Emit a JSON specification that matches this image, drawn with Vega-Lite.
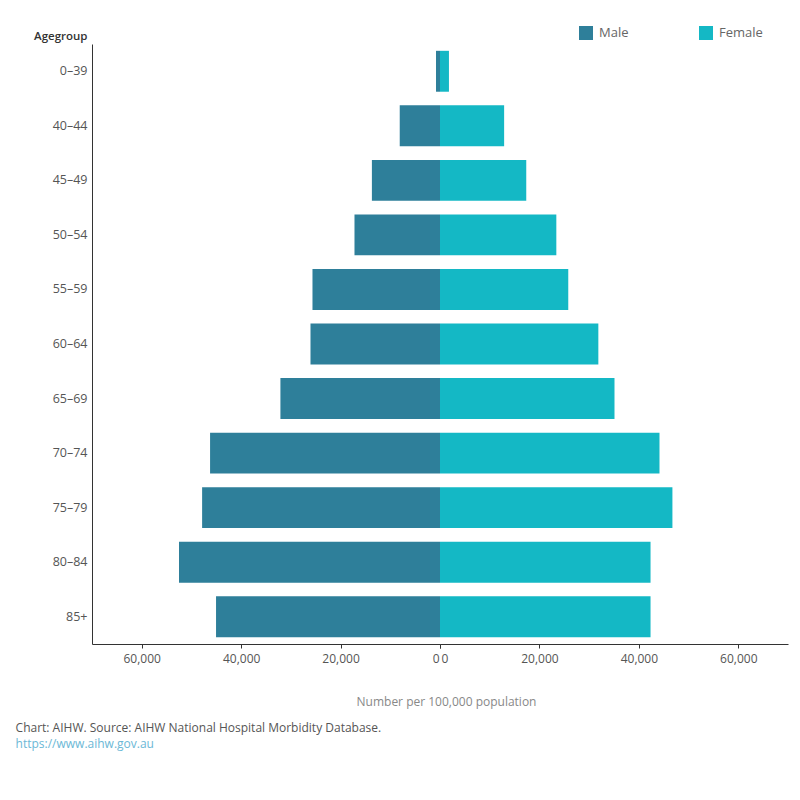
{
  "$schema": "https://vega.github.io/schema/vega-lite/v6.json",
  "background": "white",
  "padding": {"left": 15, "top": 26, "right": 12, "bottom": 30},
  "bounds": "flush",
  "config": {
    "view": {"stroke": null},
    "font": "Open Sans",
    "axis": {
      "grid": false,
      "domainColor": "#333333",
      "tickColor": "#333333",
      "labelColor": "#555555",
      "labelFontSize": 12,
      "labelFont": "Open Sans"
    }
  },
  "data": {
    "values": [
      {"agegroup": "0–39", "sex": "Male", "value": 800},
      {"agegroup": "40–44", "sex": "Male", "value": 8100},
      {"agegroup": "45–49", "sex": "Male", "value": 13700},
      {"agegroup": "50–54", "sex": "Male", "value": 17200},
      {"agegroup": "55–59", "sex": "Male", "value": 25650},
      {"agegroup": "60–64", "sex": "Male", "value": 26050},
      {"agegroup": "65–69", "sex": "Male", "value": 32100},
      {"agegroup": "70–74", "sex": "Male", "value": 46250},
      {"agegroup": "75–79", "sex": "Male", "value": 47850},
      {"agegroup": "80–84", "sex": "Male", "value": 52500},
      {"agegroup": "85+", "sex": "Male", "value": 45050},
      {"agegroup": "0–39", "sex": "Female", "value": 1800},
      {"agegroup": "40–44", "sex": "Female", "value": 12900},
      {"agegroup": "45–49", "sex": "Female", "value": 17350},
      {"agegroup": "50–54", "sex": "Female", "value": 23400},
      {"agegroup": "55–59", "sex": "Female", "value": 25800},
      {"agegroup": "60–64", "sex": "Female", "value": 31850},
      {"agegroup": "65–69", "sex": "Female", "value": 35100},
      {"agegroup": "70–74", "sex": "Female", "value": 44150},
      {"agegroup": "75–79", "sex": "Female", "value": 46750},
      {"agegroup": "80–84", "sex": "Female", "value": 42350},
      {"agegroup": "85+", "sex": "Female", "value": 42350}
    ]
  },
  "title": {
    "text": "Chart: AIHW. Source: AIHW National Hospital Morbidity Database.",
    "subtitle": "https://www.aihw.gov.au",
    "orient": "bottom",
    "anchor": "start",
    "frame": "bounds",
    "dx": -18,
    "offset": 16,
    "font": "Open Sans",
    "fontSize": 12,
    "fontWeight": "normal",
    "color": "#555555",
    "subtitleFont": "Open Sans",
    "subtitleFontSize": 12,
    "subtitleColor": "#6bb8d6",
    "subtitlePadding": 4
  },
  "spacing": 0,
  "hconcat": [
    {
      "width": 348,
      "height": 600,
      "transform": [{"filter": "datum.sex === 'Male'"}],
      "encoding": {
        "y": {
          "field": "agegroup",
          "type": "nominal",
          "sort": ["0–39", "40–44", "45–49", "50–54", "55–59", "60–64", "65–69", "70–74", "75–79", "80–84", "85+"],
          "scale": {"paddingInner": 0.25, "paddingOuter": 0.125},
          "axis": {
            "title": "Agegroup",
            "titleAngle": 0,
            "titleAlign": "right",
            "titleBaseline": "middle",
            "titleX": -5,
            "titleY": -8,
            "titleFontSize": 11.5,
            "titleFontWeight": 600,
            "titleColor": "#333333",
            "ticks": false,
            "labelPadding": 5,
            "labelFontSize": 12.5,
            "domain": true
          }
        }
      },
      "layer": [
        {
          "mark": {"type": "rule", "color": "#333333", "strokeWidth": 1},
          "encoding": {"x": {"datum": 0, "type": "quantitative"}}
        },
        {
          "mark": {"type": "bar"},
          "encoding": {
            "x": {
              "field": "value",
              "type": "quantitative",
              "scale": {"domain": [0, 70000], "reverse": true, "nice": false},
              "axis": {
                "title": "Number per 100,000 population",
                "titleX": 354,
                "titleY": 57,
                "titleAlign": "center",
                "titleBaseline": "middle",
                "titleFontSize": 12,
                "titleFontWeight": "normal",
                "titleColor": "#888888",
                "tickSize": 4,
                "labelPadding": 5,
                "labelFlush": false,
                "labelAlign": {"expr": "datum.value === 0 ? 'right' : 'center'"},
                "labelOffset": {"expr": "datum.value === 0 ? -1 : 0"},
                "values": [0, 20000, 40000, 60000],
                "format": ",.0f"
              }
            },
            "color": {
              "field": "sex",
              "type": "nominal",
              "scale": {"domain": ["Male", "Female"], "range": ["#2e7f9a", "#14b8c5"]},
              "legend": {
                "title": null,
                "orient": "none",
                "legendX": 487,
                "legendY": -18,
                "direction": "horizontal",
                "columns": 2,
                "columnPadding": 70,
                "padding": 0,
                "symbolType": "square",
                "symbolSize": 196,
                "symbolStrokeWidth": 0,
                "labelFontSize": 13,
                "labelFont": "Open Sans",
                "labelColor": "#666666",
                "labelOffset": 6
              }
            }
          }
        }
      ]
    },
    {
      "width": 348,
      "height": 600,
      "transform": [{"filter": "datum.sex === 'Female'"}],
      "mark": {"type": "bar"},
      "encoding": {
        "y": {
          "field": "agegroup",
          "type": "nominal",
          "sort": ["0–39", "40–44", "45–49", "50–54", "55–59", "60–64", "65–69", "70–74", "75–79", "80–84", "85+"],
          "scale": {"paddingInner": 0.25, "paddingOuter": 0.125},
          "axis": null
        },
        "x": {
          "field": "value",
          "type": "quantitative",
          "scale": {"domain": [0, 70000], "nice": false},
          "axis": {
            "title": null,
            "tickSize": 4,
            "labelPadding": 5,
            "labelFlush": false,
            "labelAlign": {"expr": "datum.value === 0 ? 'left' : 'center'"},
            "labelOffset": {"expr": "datum.value === 0 ? 1 : 0"},
            "values": [0, 20000, 40000, 60000],
            "format": ",.0f"
          }
        },
        "color": {
          "field": "sex",
          "type": "nominal",
          "scale": {"domain": ["Male", "Female"], "range": ["#2e7f9a", "#14b8c5"]}
        }
      }
    }
  ]
}
